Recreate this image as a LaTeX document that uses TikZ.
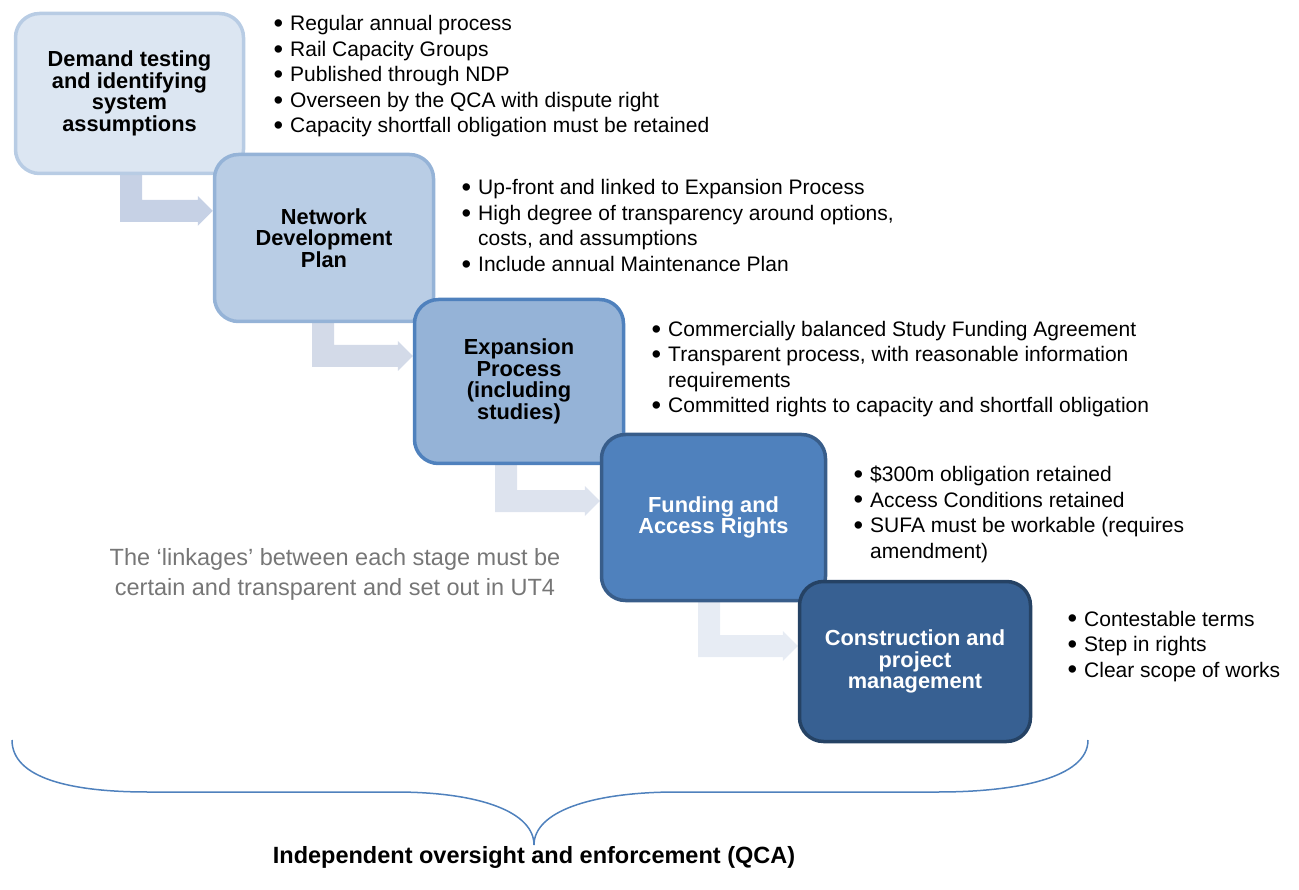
\documentclass[tikz,border=0pt]{standalone}
\usepackage{fontspec}
\setmainfont{Liberation Sans}
\usetikzlibrary{calc}

% stage fills and borders, light to dark
\definecolor{fillA}{HTML}{DCE6F2}\definecolor{lineA}{HTML}{B8CCE4}
\definecolor{fillB}{HTML}{B9CDE5}\definecolor{lineB}{HTML}{95B3D7}
\definecolor{fillC}{HTML}{95B3D7}\definecolor{lineC}{HTML}{4F81BD}
\definecolor{fillD}{HTML}{4F81BD}\definecolor{lineD}{HTML}{385D8A}
\definecolor{fillE}{HTML}{376092}\definecolor{lineE}{HTML}{254264}
% bent linking arrows, fading out down the staircase
\definecolor{arrA}{HTML}{C6D1E5}
\definecolor{arrB}{HTML}{D3DAE8}
\definecolor{arrC}{HTML}{DDE3EE}
\definecolor{arrD}{HTML}{E7ECF4}
\definecolor{braceblue}{HTML}{4F81BD}
\definecolor{notegrey}{HTML}{767676}

\newcommand\boxfont{\fontsize{21.8}{21.7}\selectfont\bfseries}
\newcommand\listfont{\fontsize{21}{25.5}\selectfont}
\newcommand\itm{\makebox[0pt][r]{\raisebox{-1.6pt}{\scalebox{1.3}{\textbullet}}\hspace{7pt}}}

% bent arrow: #1 from-node, #2 to-node, #3 bar left x, #4 shaft top y, #5 colour
% bar and shaft 22 wide, head 15 long and 30 high, tip on the left side of #2
\newcommand\bentarrow[5]{%
  \fill[#5] (#3,0 |- #1.south) ++(0,-4) -- ++(22,0) -- (#3+22,#4)
    -- ($(0,#4 -| #2.west)+(-15,0)$) -- ++(0,-4) -- (0,#4+11 -| #2.west)
    -- ($(0,#4 -| #2.west)+(-15,26)$) -- ++(0,-4) -- (#3,#4+22) -- cycle;}

\tikzset{
  stagebox/.style={rectangle, rounded corners=24pt, line width=3.5pt,
    align=center, font=\boxfont, inner sep=0pt},
  % anchored at the baseline of the last line
  pointlist/.style={align=left, inner sep=0pt, font=\listfont, anchor=base west},
}

\begin{document}
\begin{tikzpicture}[x=1pt,y=-1pt]
\useasboundingbox (0,0) rectangle (1299,890);

% ---- stages (placed first so the arrows can refer to them) ----
\path
  (129.5,93.5) node[stagebox, minimum width=228pt, minimum height=160pt] (b1) {}
  (324,238)    node[stagebox, minimum width=219pt, minimum height=167pt] (b2) {}
  (519,381.5)  node[stagebox, minimum width=209pt, minimum height=164pt] (b3) {}
  (713.5,517.5) node[stagebox, minimum width=224pt, minimum height=166pt] (b4) {}
  (915,661.5)  node[stagebox, minimum width=231pt, minimum height=160pt] (b5) {};

% ---- linking arrows, under the boxes ----
\bentarrow{b1}{b2}{120}{200}{arrA}
\bentarrow{b2}{b3}{312}{345}{arrB}
\bentarrow{b3}{b4}{495}{490}{arrC}
\bentarrow{b4}{b5}{698}{635}{arrD}

% ---- boxes drawn on top, each overlapping the previous one ----
\node[stagebox, fill=fillA, draw=lineA, minimum width=228pt, minimum height=160pt]
  at (b1) {Demand testing\\and identifying\\system\\assumptions};
\node[stagebox, fill=fillB, draw=lineB, minimum width=219pt, minimum height=167pt]
  at (b2) {Network\\Development\\Plan};
\node[stagebox, fill=fillC, draw=lineC, minimum width=209pt, minimum height=164pt]
  at (b3) {Expansion\\Process\\(including\\studies)};
\node[stagebox, fill=fillD, draw=lineD, text=white, minimum width=224pt, minimum height=166pt]
  at (b4) {Funding and\\Access Rights};
\node[stagebox, fill=fillE, draw=lineE, text=white, minimum width=231pt, minimum height=160pt]
  at (b5) {Construction and\\project\\management};

% ---- bullet points beside each stage ----
\node[pointlist] (l1) at (290,133) {\itm Regular annual process\\
  \itm Rail Capacity Groups\\
  \itm Published through NDP\\
  \itm Overseen by the QCA with dispute right\\
  \itm Capacity shortfall obligation must be retained};
\node[pointlist] (l2) at (478,271.5) {\itm Up-front and linked to Expansion Process\\
  \itm High degree of transparency around options,\\
  costs, and assumptions\\
  \itm Include annual Maintenance Plan};
\node[pointlist] (l3) at (668,413) {\itm Commercially balanced Study Funding Agreement\\
  \itm Transparent process, with reasonable information\\
  requirements\\
  \itm Committed rights to capacity and shortfall obligation};
\node[pointlist] (l4) at (870,558) {\itm \$300m obligation retained\\
  \itm Access Conditions retained\\
  \itm SUFA must be workable (requires\\
  amendment)};
\node[pointlist] (l5) at (1084,677) {\itm Contestable terms\\
  \itm Step in rights\\
  \itm Clear scope of works};

% ---- note on the linkages ----
\node[align=center, inner sep=0pt, text=notegrey,
  font=\fontsize{23.5}{30}\selectfont] (note) at (335,574)
  {The ‘linkages’ between each stage must be\\certain and transparent and set out in UT4};

% ---- brace spanning all stages ----
\coordinate (bl) at (12,740);
\coordinate (br) at (1088,740);
\coordinate (tip) at (534,845);
\draw[braceblue, line width=1.5pt]
  (bl) .. controls (12,778) and (70,792) .. (148,792) -- (395,792)
  .. controls (480,792) and (534,812) .. (tip)
  .. controls (534,812) and (590,792) .. (677,792) -- (938,792)
  .. controls (1016,792) and (1088,778) .. (br);

\node[inner sep=0pt, font=\fontsize{23.5}{28}\selectfont\bfseries] (qca) at (534,857)
  {Independent oversight and enforcement (QCA)};
\end{tikzpicture}
\end{document}
